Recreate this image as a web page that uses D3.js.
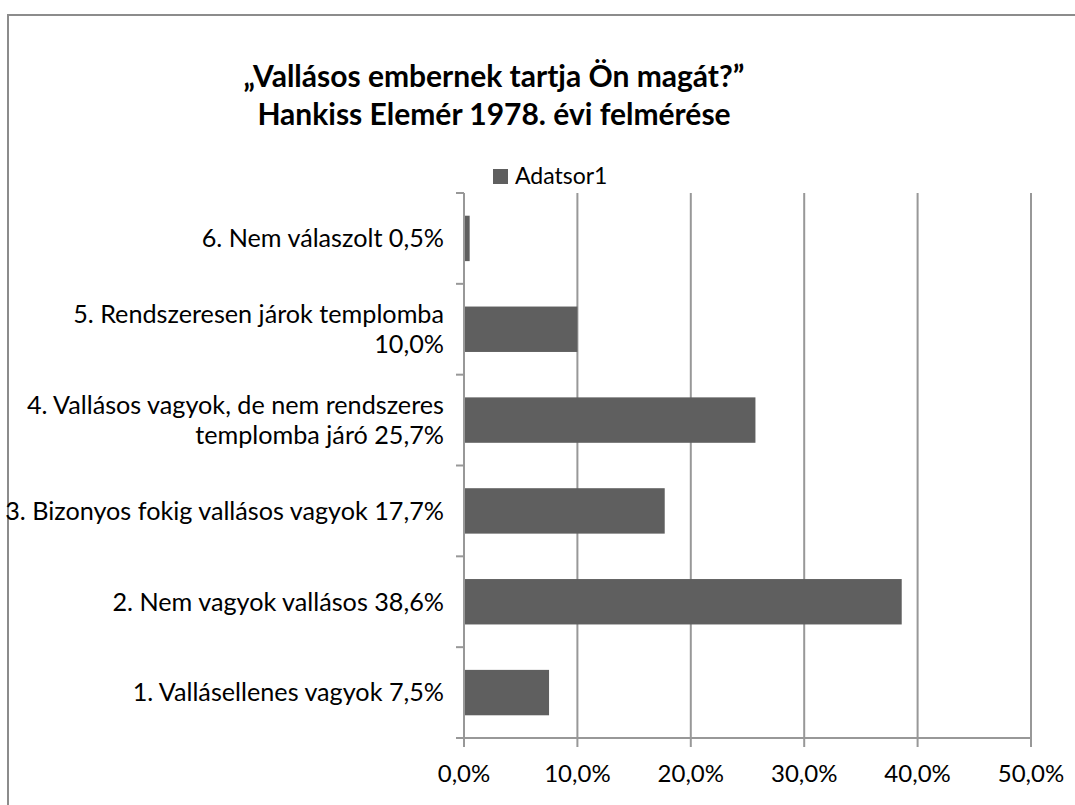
<!DOCTYPE html>
<html>
<head>
<meta charset="utf-8">
<script src="https://cdn.jsdelivr.net/npm/d3@7"></script>
<style>
  html, body { margin: 0; padding: 0; background: #fff; }
  svg { display: block; }
</style>
</head>
<body>
<div id="chart"></div>
<script>
// categories, bottom to top as in the original, with the manual line breaks
const categories = [
  "1. Vallásellenes vagyok 7,5%",
  "2. Nem vagyok vallásos 38,6%",
  "3. Bizonyos fokig vallásos vagyok 17,7%",
  "4. Vallásos vagyok, de nem rendszeres\ntemplomba járó 25,7%",
  "5. Rendszeresen járok templomba\n10,0%",
  "6. Nem válaszolt 0,5%",
];
const values = [0.075, 0.386, 0.177, 0.257, 0.1, 0.005];
const xTicks = [0, 0.1, 0.2, 0.3, 0.4, 0.5];
const titleLines = ["„Vallásos embernek tartja Ön magát?”", "Hankiss Elemér 1978. évi felmérése"];
const seriesName = "Adatsor1";

const width = 1075;
const height = 805;
const font = "Lato, 'Open Sans', sans-serif";
const barColor = "#5f5f5f";
const lineColor = "#989898";

const margin = { top: 193, right: 44, bottom: 67, left: 464 };

const x = d3.scaleLinear()
  .domain([0, 0.5])
  .range([margin.left, width - margin.right]);

// top category first in the range, so reverse the domain
const y = d3.scaleBand()
  .domain(categories.slice().reverse())
  .range([margin.top, height - margin.bottom])
  .paddingInner(0.5)
  .paddingOuter(0.25);

const fmt = (d) => d3.format(".1%")(d).replace(".", ",");

const svg = d3.select("#chart")
  .append("svg")
  .attr("width", width)
  .attr("height", height)
  .attr("font-family", font);

// chart frame (runs off the right and bottom edge like the screenshot)
svg.append("rect")
  .attr("x", 8)
  .attr("y", 15)
  .attr("width", width + 20)
  .attr("height", height + 20)
  .attr("fill", "white")
  .attr("stroke", "#8c8c8c")
  .attr("stroke-width", 2);

// title
svg.append("text")
  .attr("text-anchor", "middle")
  .attr("font-size", 30)
  .attr("font-weight", "bold")
  .attr("fill", "#000")
  .selectAll("tspan")
  .data(titleLines)
  .join("tspan")
  .attr("x", 494)
  .attr("y", (d, i) => 87 + i * 38)
  .text((d) => d);

// legend
const legend = svg.append("g").attr("transform", "translate(493,169)");
legend.append("rect")
  .attr("width", 15)
  .attr("height", 15)
  .attr("fill", barColor);
legend.append("text")
  .attr("x", 22)
  .attr("y", 15)
  .attr("font-size", 23)
  .attr("fill", "#000")
  .text(seriesName);

const [yTop, yBottom] = y.range();

// vertical gridlines
svg.append("g")
  .selectAll("line")
  .data(xTicks.filter((d) => d > 0))
  .join("line")
  .attr("x1", (d) => x(d))
  .attr("x2", (d) => x(d))
  .attr("y1", yTop)
  .attr("y2", yBottom + 9)
  .attr("stroke", lineColor)
  .attr("stroke-width", 2);

// bars
svg.append("g")
  .selectAll("rect")
  .data(values)
  .join("rect")
  .attr("x", x(0))
  .attr("y", (d, i) => y(categories[i]))
  .attr("width", (d) => x(d) - x(0))
  .attr("height", y.bandwidth())
  .attr("fill", barColor);

// x axis line + ticks
svg.append("line")
  .attr("x1", x(0) - 8)
  .attr("x2", x(0.5))
  .attr("y1", yBottom)
  .attr("y2", yBottom)
  .attr("stroke", lineColor)
  .attr("stroke-width", 2);
svg.append("line")
  .attr("x1", x(0))
  .attr("x2", x(0))
  .attr("y1", yBottom)
  .attr("y2", yBottom + 9)
  .attr("stroke", lineColor)
  .attr("stroke-width", 2);

svg.append("g")
  .attr("font-size", 24)
  .attr("text-anchor", "middle")
  .selectAll("text")
  .data(xTicks)
  .join("text")
  .attr("x", (d) => x(d))
  .attr("y", 782)
  .attr("fill", "#000")
  .text(fmt);

// y axis line + ticks at band boundaries
svg.append("line")
  .attr("x1", x(0))
  .attr("x2", x(0))
  .attr("y1", yTop)
  .attr("y2", yBottom)
  .attr("stroke", lineColor)
  .attr("stroke-width", 2);

const bounds = d3.range(categories.length + 1).map((i) => yTop + i * (yBottom - yTop) / categories.length);
svg.append("g")
  .selectAll("line")
  .data(bounds)
  .join("line")
  .attr("x1", x(0) - 8)
  .attr("x2", x(0))
  .attr("y1", (d) => d)
  .attr("y2", (d) => d)
  .attr("stroke", lineColor)
  .attr("stroke-width", 2);

// category labels
const lineH = 30;
svg.append("g")
  .attr("font-size", 25.2)
  .attr("text-anchor", "end")
  .attr("fill", "#000")
  .selectAll("text")
  .data(categories)
  .join("text")
  .each(function (d) {
    const lines = d.split("\n");
    const cy = y(d) + y.bandwidth() / 2;
    const t = d3.select(this);
    lines.forEach((ln, i) => {
      t.append("tspan")
        .attr("x", 444)
        .attr("y", cy + (i - (lines.length - 1) / 2) * lineH)
        .attr("dy", "0.35em")
        .text(ln);
    });
  });
</script>
</body>
</html>
